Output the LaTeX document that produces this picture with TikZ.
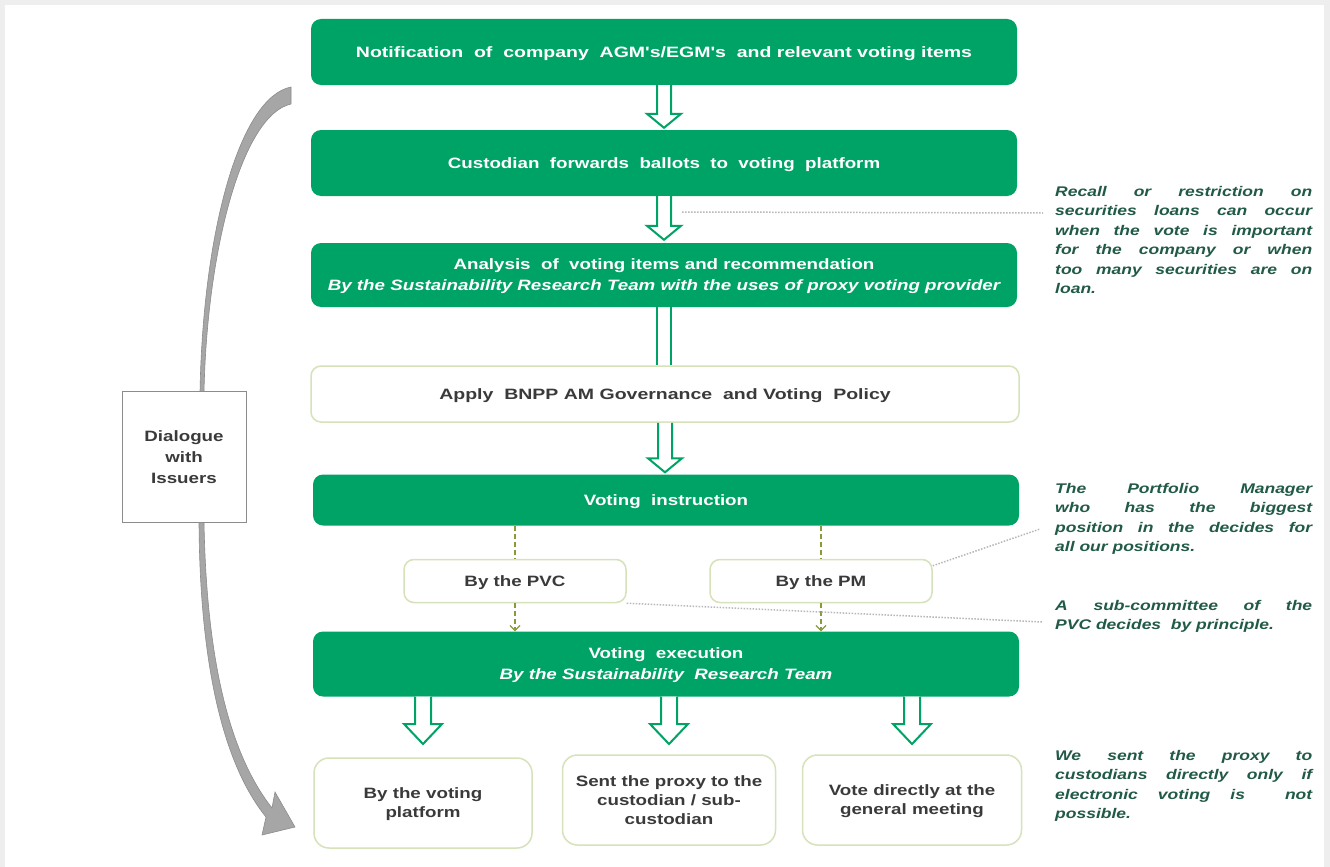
\documentclass[tikz,border=0pt]{standalone}
\usepackage{fontspec}
\setmainfont{Liberation Sans}
\newfontfamily\wf[FakeStretch=1.25]{Liberation Sans}
\newfontfamily\xf[FakeStretch=1.3]{Liberation Sans}
\usetikzlibrary{arrows.meta,calc}
\definecolor{grn}{HTML}{00A366}
\definecolor{olv}{HTML}{D5E2BA}
\definecolor{dsh}{HTML}{8A9A3A}
\definecolor{notec}{HTML}{215A47}
\definecolor{txtd}{HTML}{3A3A3A}
\definecolor{bgc}{HTML}{EFEEEE}
\definecolor{arrg}{HTML}{A6A6A6}
\definecolor{arrd}{HTML}{8C8C8C}
\definecolor{dotc}{HTML}{B8B8B8}
\tikzset{
  gbox/.style={rectangle, rounded corners=10pt, fill=grn, draw=none, text=white,
    font=\wf\bfseries\fontsize{15}{19}\selectfont, align=center, inner sep=0pt, text depth=0pt},
  wbox/.style={rectangle, rounded corners=10pt, fill=white, draw=olv, line width=1.5pt,
    text=txtd, font=\wf\bfseries\fontsize{15}{19}\selectfont, align=center, inner sep=0pt, text depth=0pt},
  notebox/.style={text width=257pt, align=justify, inner sep=0pt, text=notec,
    font=\wf\bfseries\itshape\fontsize{14}{19.5}\selectfont, anchor=north west},
  dline/.style={dsh, line width=1.2pt, dash pattern=on 5pt off 3pt},
  dotl/.style={dotc, line width=1.5pt, dash pattern=on 1.5pt off 1.5pt},
  harr/.style={grn, line width=2pt, line join=miter},
}
\newcommand\hollowarr[5]{%
  \fill[white] let \p1=#1, \p2=#2 in
    (\x1-#3,\y1) -- (\x1-#3,\y2+#5) -- (\x1-#4,\y2+#5) -- (\x1,\y2) --
    (\x1+#4,\y2+#5) -- (\x1+#3,\y2+#5) -- (\x1+#3,\y1) -- cycle;
  \draw[harr] let \p1=#1, \p2=#2 in
    (\x1-#3,\y1) -- (\x1-#3,\y2+#5) -- (\x1-#4,\y2+#5) -- (\x1,\y2) --
    (\x1+#4,\y2+#5) -- (\x1+#3,\y2+#5) -- (\x1+#3,\y1);
}
\begin{document}
\begin{tikzpicture}[x=1pt,y=-1pt]
\useasboundingbox (0,0) rectangle (1330,867);
\fill[bgc] (0,0) rectangle (1330,867);
\fill[white] (5,5) rectangle (1324,867);

% left curved arrow (dialogue loop)
\filldraw[fill=arrg, draw=arrd, line width=0.6pt]
  (291,87) .. controls (240,97) and (203,230) .. (200,392)
  -- (199,523) .. controls (200,680) and (228,770) .. (266,817)
  -- (262,835) -- (295,827) -- (275,792) -- (272,808)
  .. controls (236,762) and (207,680) .. (204,523)
  -- (204,392) .. controls (207,250) and (242,115) .. (291,104) -- cycle;

% main boxes
\node[gbox, minimum width=706pt, minimum height=66pt] (b1) at (664,52)
  {\xf Notification \ of \ company \ AGM's/EGM's \ and relevant voting items};
\node[gbox, minimum width=706pt, minimum height=66pt] (b2) at (664,163)
  {Custodian \ forwards \ ballots \ to \ voting \ platform};
\node[gbox, minimum width=706pt, minimum height=64pt] (b3) at (664,275)
  {Analysis \ of \ voting items and recommendation\\[2pt]
   {\itshape By the Sustainability Research Team with the uses of proxy voting provider}};
\node[wbox, minimum width=708pt, minimum height=56pt] (b4) at (665,394)
  {\xf Apply \ BNPP AM Governance \ and Voting \ Policy};
\node[gbox, minimum width=706pt, minimum height=51pt] (b5) at (666,500)
  {Voting \ instruction};
\node[wbox, minimum width=222pt, minimum height=43pt] (pvc) at (515,581) {By the PVC};
\node[wbox, minimum width=222pt, minimum height=43pt] (pm) at (821,581) {By the PM};
\node[gbox, minimum width=706pt, minimum height=65pt] (b6) at (666,664)
  {Voting \ execution\\[2pt]{\itshape By the Sustainability \ Research Team}};
\node[wbox, rounded corners=15pt, minimum width=218pt, minimum height=90pt] (b7) at (423,803)
  {By the voting\\platform};
\node[wbox, rounded corners=15pt, minimum width=213pt, minimum height=90pt] (b8) at (669,800)
  {Sent the proxy to the\\custodian / sub-\\custodian};
\node[wbox, rounded corners=15pt, minimum width=219pt, minimum height=90pt] (b9) at (912,800)
  {Vote directly at the\\general meeting};

% dialogue box
\node[rectangle, fill=white, draw=arrd, line width=1pt, minimum width=124pt, minimum height=131pt,
  align=center, text=txtd, font=\wf\bfseries\fontsize{15}{21}\selectfont] (dlg) at (184,457)
  {Dialogue\\with\\Issuers};

% hollow arrows
\coordinate (t2) at ($(b2.north)+(0,-2)$);
\coordinate (t3) at ($(b3.north)+(0,-3)$);
\coordinate (t5) at ($(b5.north)+(0,-2)$);
\hollowarr{(b1.south)}{(t2)}{7pt}{17pt}{14pt}
\hollowarr{(b2.south)}{(t3)}{7pt}{17pt}{14pt}
\draw[harr] let \p1=(b3.south), \p2=(b4.north) in
  (\x1-7pt,\y1) -- (\x1-7pt,\y2) (\x1+7pt,\y1) -- (\x1+7pt,\y2);
\hollowarr{(b4.south)}{(t5)}{7pt}{17pt}{14pt}

\coordinate (tipline) at (0,744);
\hollowarr{(b7.north |- b6.south)}{(b7.north |- tipline)}{8pt}{19pt}{20pt}
\hollowarr{(b8.north |- b6.south)}{(b8.north |- tipline)}{8pt}{19pt}{20pt}
\hollowarr{(b9.north |- b6.south)}{(b9.north |- tipline)}{8pt}{19pt}{20pt}

% dashed connectors
\draw[dline] (pvc.north |- b5.south) -- (pvc.north);
\draw[dline] (pm.north |- b5.south) -- (pm.north);
\draw[dline, -{Straight Barb[length=5pt,width=10pt]}] (pvc.south) -- (pvc.south |- b6.north);
\draw[dline, -{Straight Barb[length=5pt,width=10pt]}] (pm.south) -- (pm.south |- b6.north);

% notes
\node[notebox] (n1) at (1055,186)
  {Recall or restriction on\linebreak securities loans can occur\linebreak when the vote is important\linebreak for the company or when\linebreak too many securities are on\linebreak loan.};
\node[notebox] (n2) at (1055,483)
  {The Portfolio Manager\linebreak who has the biggest\linebreak position in the decides for\linebreak all our positions.};
\node[notebox] (n3) at (1055,600)
  {A sub-committee of the\linebreak PVC decides \ by principle.};
\node[notebox] (n4) at (1055,750)
  {We sent the proxy to\linebreak custodians directly only if\linebreak electronic voting is \ not\linebreak possible.};

% dotted leader lines
\coordinate (d1) at (682,212);
\coordinate (e1) at (1043,213);
\coordinate (e2) at (1040,529);
\coordinate (e3) at (1043,622);
\draw[dotl] (d1) -- (e1);
\draw[dotl] ($(pm.north east)+(0,7)$) -- (e2);
\draw[dotl] (pvc.south east) -- (e3);
\end{tikzpicture}
\end{document}
